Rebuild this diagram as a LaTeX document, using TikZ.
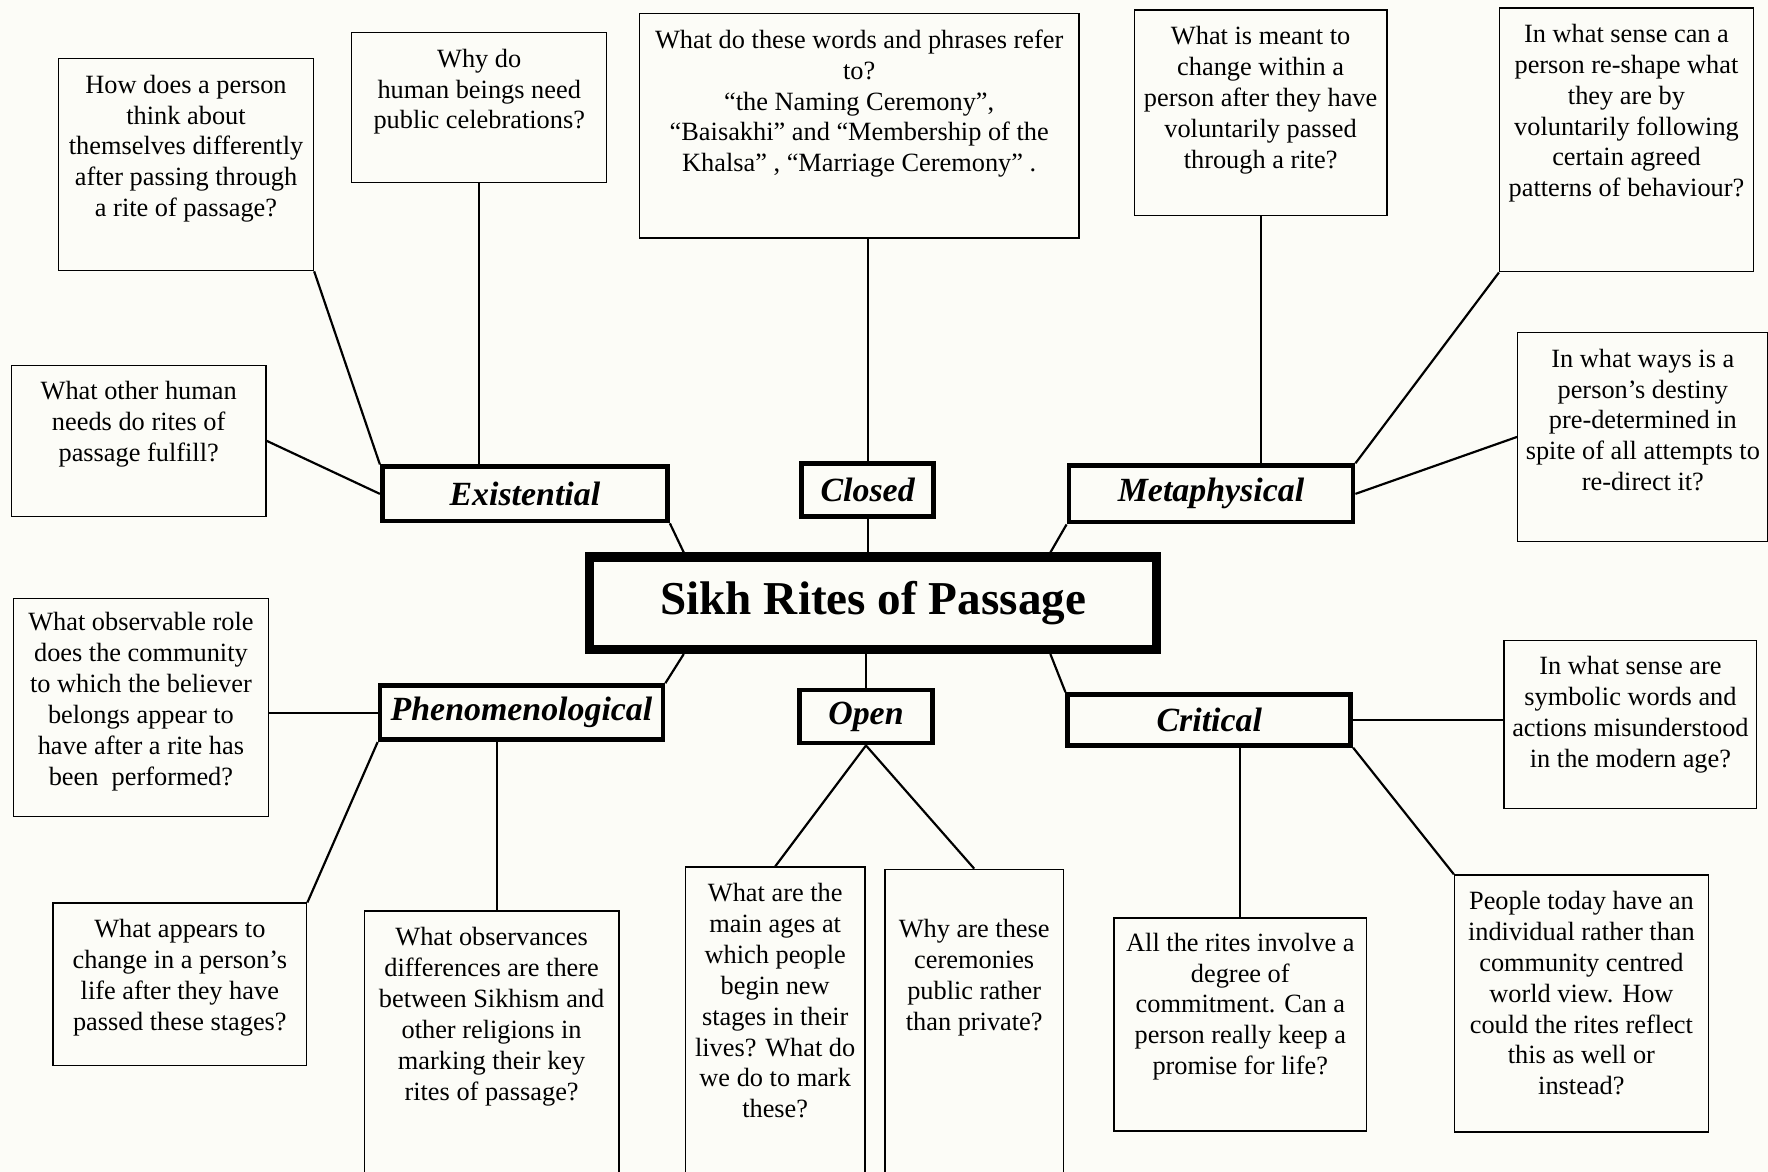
\documentclass[tikz,border=0pt]{standalone}
\usepackage{fontspec}
\setmainfont{Liberation Serif}
\usetikzlibrary{fit, calc}
\definecolor{paper}{RGB}{252,252,247}

\begin{document}
\begin{tikzpicture}[
    x = 0.02cm, y = -0.02cm,
    line width = 1.1pt,
    % question boxes and the text inside them
    qbox/.style = {draw, line width = 0.7pt, inner sep = 0pt},
    qtxt/.style = {anchor = north, inner sep = 0pt, align = center,
                   font = \fontsize{13.3}{15.6}\selectfont},
    % headings round the title
    headbox/.style = {draw, line width = 2.4pt, inner sep = 0pt,
                      font = \fontsize{17.1}{20}\selectfont\bfseries\itshape},
    mainbox/.style = {draw, line width = 4.6pt, inner sep = 0pt,
                      minimum width = 10.06cm, minimum height = 1.64cm,
                      font = \fontsize{23.8}{28}\selectfont\bfseries}
    ]

    % Determines the boundries
    \fill [paper] (0,0) rectangle (1568,1039);
    \path [use as bounding box] (0,0) rectangle (1568,1039);

    % Title and the six headings
    \node (cen) [mainbox] at (774.5,535) {Sikh Rites of Passage};

    \node (exi) [headbox, minimum width=5.06cm, minimum height=0.96cm] at (465.5,438)  {Existential};
    \node (clo) [headbox, minimum width=2.34cm, minimum height=0.94cm] at (769.5,434.5) {Closed};
    \node (met) [headbox, minimum width=5.04cm, minimum height=1.00cm] at (1074,438)   {Metaphysical};
    \node (phe) [headbox, minimum width=5.02cm, minimum height=0.96cm] at (462.5,632)  {Phenomenological};
    \node (opn) [headbox, minimum width=2.36cm, minimum height=0.94cm] at (768,635.5)  {Open};
    \node (cri) [headbox, minimum width=5.02cm, minimum height=0.90cm] at (1072.5,638.5) {Critical};

    % Question boxes: name / corners / drop of the text / text
    \foreach \n/\xa/\ya/\xb/\yb/\dy/\txt in {
        q1/52/52/278/240/0.28/{How does a person\\think about\\themselves differently\\after passing through\\a rite of passage?},
        q2/312/29/538/162/0.28/{Why do\\human beings need\\public celebrations?},
        q3/567/12/957/211/0.28/{What do these words and phrases refer\\to?\\“the Naming Ceremony”,\\“Baisakhi” and “Membership of the\\Khalsa” , “Marriage Ceremony” .},
        q4/1006/9/1230/191/0.28/{What is meant to\\change within a\\person after they have\\voluntarily passed\\through a rite?},
        q5/1330/7/1555/241/0.28/{In what sense can a\\person re-shape what\\they are by\\voluntarily following\\certain agreed\\patterns of behaviour?},
        q6/1346/295/1568/480/0.28/{In what ways is a\\person’s destiny\\pre-determined in\\spite of all attempts to\\re-direct it?},
        q7/10/324/236/458/0.28/{What other human\\needs do rites of\\passage fulfill?},
        q8/12/531/238/724/0.24/{What observable role\\does the community\\to which the believer\\belongs appear to\\have after a rite has\\been\ \ performed?},
        q9/47/801/272/945/0.28/{What appears to\\change in a person’s\\life after they have\\passed these stages?},
        q10/323/808/549/1060/0.28/{What observances\\differences are there\\between Sikhism and\\other religions in\\marking their key\\rites of passage?},
        q11/608/769/767/1060/0.28/{What are the\\main ages at\\which people\\begin new\\stages in their\\lives? What do\\we do to mark\\these?},
        q12/785/771/943/1060/0.88/{Why are these\\ceremonies\\public rather\\than private?},
        q13/1334/568/1558/717/0.28/{In what sense are\\symbolic words and\\actions misunderstood\\in the modern age?},
        q14/988/814/1212/1003/0.26/{All the rites involve a\\degree of\\commitment. Can a\\person really keep a\\promise for life?},
        q15/1290/776/1515/1004/0.28/{People today have an\\individual rather than\\community centred\\world view. How\\could the rites reflect\\this as well or\\instead?}%
    }{
        \node (\n) [qbox, fit={(\xa,\ya) (\xb,\yb)}] {};
        \node (\n-t) [qtxt] at ([yshift={-\dy*1cm}]\n.north) {\txt};
    }

    % Headings to the title
    \draw (exi.south east) -- (cen.165);
    \draw (clo.south) -- (clo.south |- cen.north);
    \draw (met.south west) -- (cen.16);
    \draw (phe.north east) -- (cen.195);
    \draw (opn.north) -- (opn.north |- cen.south);
    \draw (cri.north west) -- (cen.344);

    % Existential
    \draw (q1.south east) -- (exi.north west);
    \draw (q2.south) -- (q2.south |- exi.north);
    \draw (q7.east) -- (exi.west);

    % Closed
    \draw (clo.north) -- (clo.north |- q3.south);

    % Metaphysical
    \draw (q4.south) -- (q4.south |- met.north);
    \draw (q5.south west) -- (met.north east);
    \draw (met.east) -- (q6.west);

    % Phenomenological
    \draw (phe.west) -- (phe.west -| q8.east);
    \draw (phe.south west) -- (q9.north east);
    \draw ([xshift=0.1cm]q10.north) -- ([xshift=0.1cm]q10.north |- phe.south);

    % Open
    \draw (opn.south) -- (q11.north);
    \draw (opn.south) -- (q12.north);

    % Critical
    \draw (cri.east) -- (cri.east -| q13.west);
    \draw (q14.north) -- (q14.north |- cri.south);
    \draw (cri.south east) -- (q15.north west);

\end{tikzpicture}
\end{document}
